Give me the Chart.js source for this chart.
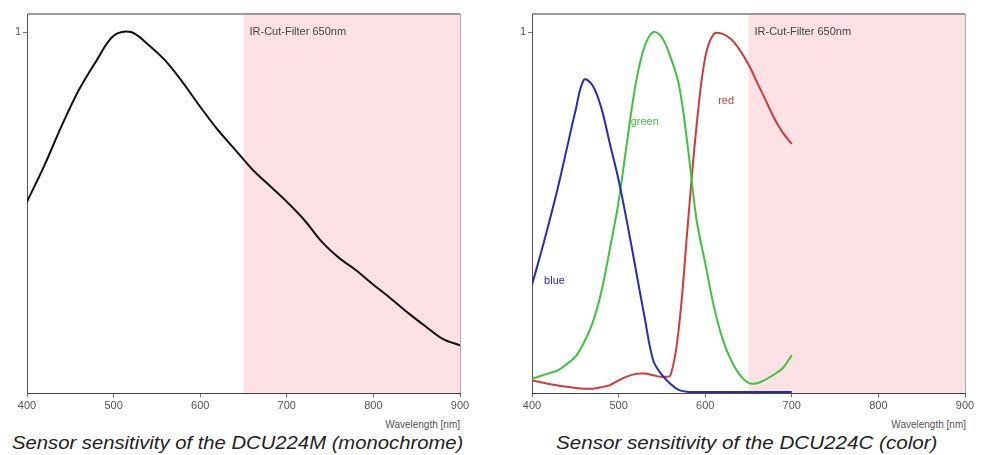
<!DOCTYPE html>
<html>
<head>
<meta charset="utf-8">
<script src="https://cdn.jsdelivr.net/npm/chart.js@4/dist/chart.umd.min.js"></script>
<style>
  body { margin: 0; background: #fff; width: 982px; height: 455px; overflow: hidden; position: relative; font-family: "Liberation Sans", Arial, sans-serif; }
  canvas { position: absolute; top: 0; }
  #mono { left: 0; }
  #color { left: 505px; }
  .unit { position: absolute; top: 419px; font-size: 10px; color: #555; }
  .caption { position: absolute; top: 433px; font-size: 18px; font-style: italic; color: #222; white-space: nowrap; transform-origin: 0 0; }
</style>
</head>
<body>
<canvas id="mono" width="480" height="415"></canvas>
<canvas id="color" width="480" height="415"></canvas>
<div class="unit" style="right:522px">Wavelength [nm]</div>
<div class="unit" style="right:16px">Wavelength [nm]</div>
<div class="caption" style="left:12px; transform: scaleX(1.125)">Sensor sensitivity of the DCU224M (monochrome)</div>
<div class="caption" style="left:556px; transform: scaleX(1.145)">Sensor sensitivity of the DCU224C (color)</div>
<script>
// wavelength grid for the monochrome sensor
const monoNm = [400, 420, 440, 460, 480, 500, 520, 540, 560, 580, 600, 620, 640, 660, 680, 700, 720, 740, 760, 780, 800, 820, 840, 860, 880, 900];
const monoVal = [0.53, 0.63, 0.74, 0.84, 0.92, 0.99, 1.0, 0.965, 0.92, 0.86, 0.793, 0.73, 0.675, 0.62, 0.575, 0.53, 0.48, 0.42, 0.375, 0.34, 0.30, 0.262, 0.222, 0.185, 0.15, 0.132];

// wavelength grid for the color sensor
const colorNm = [400, 410, 420, 430, 440, 450, 460, 470, 480, 490, 500, 510, 520, 530, 540, 550, 560, 570, 580, 590, 600, 610, 620, 630, 640, 650, 660, 670, 680, 690, 700];
const blueVal = [0.30, 0.385, 0.475, 0.57, 0.675, 0.78, 0.868, 0.852, 0.79, 0.69, 0.59, 0.47, 0.34, 0.21, 0.09, 0.05, 0.025, 0.008, 0.003, 0.003, 0.003, 0.003, 0.003, 0.003, 0.003, 0.003, 0.003, 0.003, 0.003, 0.003, 0.003];
const greenVal = [0.04, 0.047, 0.055, 0.063, 0.08, 0.10, 0.14, 0.195, 0.28, 0.40, 0.53, 0.70, 0.86, 0.96, 1.0, 0.985, 0.93, 0.85, 0.68, 0.48, 0.36, 0.24, 0.15, 0.09, 0.05, 0.028, 0.027, 0.038, 0.052, 0.07, 0.105];
const redVal = [0.035, 0.03, 0.025, 0.021, 0.017, 0.014, 0.012, 0.012, 0.016, 0.022, 0.035, 0.046, 0.053, 0.054, 0.049, 0.045, 0.05, 0.19, 0.47, 0.74, 0.93, 0.995, 0.995, 0.98, 0.95, 0.91, 0.86, 0.81, 0.76, 0.72, 0.69];

const xTicks = [400, 500, 600, 700, 800, 900];
const yTicks = [1];
const filterNm = 650;
const filterLabel = 'IR-Cut-Filter 650nm';

const seriesLabels = [
  { text: 'blue', x: 414, y: 0.31, color: '#2a2ab8' },
  { text: 'green', x: 514, y: 0.75, color: '#3cc43c' },
  { text: 'red', x: 615, y: 0.81, color: '#d23a3a' }
];

function points(xs, ys) {
  return xs.map((x, i) => ({ x: x, y: ys[i] }));
}

// pink band, frame and labels
const decor = {
  id: 'decor',
  beforeDatasetsDraw(chart) {
    const { ctx, chartArea: a, scales } = chart;
    const x0 = scales.x.getPixelForValue(filterNm);
    ctx.save();
    ctx.fillStyle = '#fde1e4';
    ctx.fillRect(x0, a.top, a.right - x0, a.bottom - a.top);
    ctx.strokeStyle = '#999';
    ctx.lineWidth = 2;
    ctx.beginPath();
    ctx.moveTo(a.left, a.top);
    ctx.lineTo(a.right, a.top);
    ctx.stroke();
    ctx.lineWidth = 1;
    ctx.strokeStyle = '#aaa';
    ctx.beginPath();
    ctx.moveTo(a.right + 0.5, a.top);
    ctx.lineTo(a.right + 0.5, a.bottom);
    ctx.stroke();
    ctx.fillStyle = '#444';
    ctx.font = '11px "Liberation Sans", Arial, sans-serif';
    ctx.textBaseline = 'middle';
    ctx.fillText(filterLabel, x0 + 6, scales.y.getPixelForValue(1));
    const labels = chart.options.plugins.decor.labels || [];
    labels.forEach(l => {
      ctx.fillStyle = l.color;
      ctx.fillText(l.text, scales.x.getPixelForValue(l.x), scales.y.getPixelForValue(l.y));
    });
    ctx.restore();
  }
};

function makeOptions(labels) {
  return {
    responsive: false,
    animation: false,
    devicePixelRatio: 1,
    layout: { padding: { top: 14, right: 20, left: 0, bottom: 0 } },
    plugins: { legend: { display: false }, tooltip: { enabled: false }, decor: { labels: labels } },
    elements: { point: { radius: 0 }, line: { borderWidth: 2, tension: 0.35 } },
    scales: {
      x: {
        type: 'linear', min: 400, max: 900,
        afterBuildTicks: s => { s.ticks = xTicks.map(v => ({ value: v })); },
        afterFit: s => { s.height = 22; },
        grid: { drawOnChartArea: false, tickLength: 4, color: '#777' },
        border: { color: '#444', width: 1 },
        ticks: { color: '#555', font: { size: 11, family: '"Liberation Sans", Arial, sans-serif' }, padding: 2 }
      },
      y: {
        min: 0, max: 1.05,
        afterBuildTicks: s => { s.ticks = yTicks.map(v => ({ value: v })); },
        afterFit: s => { s.width = 27; },
        grid: { drawOnChartArea: false, tickLength: 4, color: '#777' },
        border: { color: '#555', width: 1 },
        ticks: { color: '#555', font: { size: 11, family: '"Liberation Sans", Arial, sans-serif' }, padding: 2 }
      }
    }
  };
}

new Chart(document.getElementById('mono'), {
  type: 'line',
  data: {
    datasets: [{ data: points(monoNm, monoVal), borderColor: '#111' }]
  },
  options: makeOptions([]),
  plugins: [decor]
});

new Chart(document.getElementById('color'), {
  type: 'line',
  data: {
    datasets: [
      { data: points(colorNm, blueVal), borderColor: '#2a2ab8' },
      { data: points(colorNm, greenVal), borderColor: '#3cc43c' },
      { data: points(colorNm, redVal), borderColor: '#d23a3a' }
    ]
  },
  options: makeOptions(seriesLabels),
  plugins: [decor]
});
</script>
</body>
</html>
